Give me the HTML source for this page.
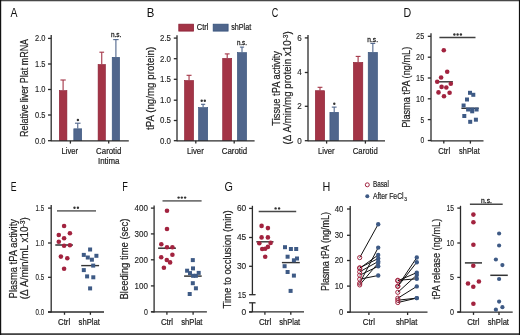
<!DOCTYPE html>
<html><head><meta charset="utf-8"><style>
html,body{margin:0;padding:0;background:#fff;}
svg{display:block;will-change:transform;filter:blur(0.3px);}
text{font-family:"Liberation Sans", sans-serif;}
</style></head><body>
<svg width="520" height="335" viewBox="0 0 520 335" font-family='"Liberation Sans", sans-serif'>
<rect width="520" height="335" fill="#fff"/>
<text x="10.60" y="16.90" font-size="12" fill="#111" textLength="7.00" lengthAdjust="spacingAndGlyphs">A</text>
<text x="146.80" y="17.00" font-size="12" fill="#111" textLength="7.60" lengthAdjust="spacingAndGlyphs">B</text>
<text x="271.80" y="17.10" font-size="12" fill="#111" textLength="6.50" lengthAdjust="spacingAndGlyphs">C</text>
<text x="403.50" y="16.90" font-size="12" fill="#111" textLength="7.70" lengthAdjust="spacingAndGlyphs">D</text>
<text x="10.80" y="191.20" font-size="12" fill="#111" textLength="5.80" lengthAdjust="spacingAndGlyphs">E</text>
<text x="122.20" y="191.20" font-size="12" fill="#111" textLength="5.60" lengthAdjust="spacingAndGlyphs">F</text>
<text x="224.60" y="191.20" font-size="12" fill="#111" textLength="8.40" lengthAdjust="spacingAndGlyphs">G</text>
<text x="322.60" y="190.90" font-size="12" fill="#111" textLength="7.80" lengthAdjust="spacingAndGlyphs">H</text>
<text transform="translate(27.90,137.00) rotate(-90)" x="0" y="0" font-size="10.6" fill="#222" stroke="#222" stroke-width="0.2" textLength="98.10" lengthAdjust="spacingAndGlyphs">Relative liver Plat mRNA</text>
<line x1="51.20" y1="35.00" x2="51.20" y2="141.20" stroke="#2b2b2b" stroke-width="1.3"/>
<line x1="48.00" y1="38.40" x2="51.20" y2="38.40" stroke="#2b2b2b" stroke-width="1.3"/>
<text x="45.40" y="41.30" font-size="8.2" fill="#222" stroke="#222" stroke-width="0.12" text-anchor="end" textLength="10.40" lengthAdjust="spacingAndGlyphs">2.0</text>
<line x1="48.00" y1="64.00" x2="51.20" y2="64.00" stroke="#2b2b2b" stroke-width="1.3"/>
<text x="45.40" y="66.90" font-size="8.2" fill="#222" stroke="#222" stroke-width="0.12" text-anchor="end" textLength="10.40" lengthAdjust="spacingAndGlyphs">1.5</text>
<line x1="48.00" y1="89.50" x2="51.20" y2="89.50" stroke="#2b2b2b" stroke-width="1.3"/>
<text x="45.40" y="92.40" font-size="8.2" fill="#222" stroke="#222" stroke-width="0.12" text-anchor="end" textLength="10.40" lengthAdjust="spacingAndGlyphs">1.0</text>
<line x1="48.00" y1="115.00" x2="51.20" y2="115.00" stroke="#2b2b2b" stroke-width="1.3"/>
<text x="45.40" y="117.90" font-size="8.2" fill="#222" stroke="#222" stroke-width="0.12" text-anchor="end" textLength="10.40" lengthAdjust="spacingAndGlyphs">0.5</text>
<line x1="48.00" y1="140.70" x2="51.20" y2="140.70" stroke="#2b2b2b" stroke-width="1.3"/>
<text x="45.40" y="143.60" font-size="8.2" fill="#222" stroke="#222" stroke-width="0.12" text-anchor="end" textLength="10.40" lengthAdjust="spacingAndGlyphs">0.0</text>
<rect x="59.30" y="90.60" width="7.60" height="50.10" fill="#a33446" stroke="#8a1f34" stroke-width="0.6"/>
<line x1="63.10" y1="80.00" x2="63.10" y2="90.30" stroke="#a33446" stroke-width="1.1"/>
<line x1="60.45" y1="80.00" x2="65.75" y2="80.00" stroke="#a33446" stroke-width="1.1"/>
<rect x="73.80" y="128.80" width="7.90" height="11.90" fill="#50668c" stroke="#34507a" stroke-width="0.6"/>
<line x1="77.75" y1="123.20" x2="77.75" y2="128.50" stroke="#50668c" stroke-width="1.1"/>
<line x1="74.95" y1="123.20" x2="80.55" y2="123.20" stroke="#50668c" stroke-width="1.1"/>
<rect x="98.10" y="64.50" width="7.30" height="76.20" fill="#a33446" stroke="#8a1f34" stroke-width="0.6"/>
<line x1="101.75" y1="52.20" x2="101.75" y2="64.20" stroke="#a33446" stroke-width="1.1"/>
<line x1="99.40" y1="52.20" x2="104.10" y2="52.20" stroke="#a33446" stroke-width="1.1"/>
<rect x="112.20" y="57.30" width="7.40" height="83.40" fill="#50668c" stroke="#34507a" stroke-width="0.6"/>
<line x1="115.90" y1="39.60" x2="115.90" y2="57.00" stroke="#50668c" stroke-width="1.1"/>
<line x1="113.20" y1="39.60" x2="118.60" y2="39.60" stroke="#50668c" stroke-width="1.1"/>
<line x1="51.20" y1="140.80" x2="128.80" y2="140.80" stroke="#2b2b2b" stroke-width="1.3"/>
<line x1="70.40" y1="140.80" x2="70.40" y2="143.60" stroke="#2b2b2b" stroke-width="1.3"/>
<line x1="108.70" y1="140.80" x2="108.70" y2="143.60" stroke="#2b2b2b" stroke-width="1.3"/>
<circle cx="77.90" cy="120.00" r="1.2" fill="#333"/>
<text x="110.90" y="37.20" font-size="7.8" fill="#222" stroke="#222" stroke-width="0.3" textLength="10.40" lengthAdjust="spacingAndGlyphs">n.s.</text>
<text x="61.50" y="154.00" font-size="8.4" fill="#222" stroke="#222" stroke-width="0.2" textLength="16.60" lengthAdjust="spacingAndGlyphs">Liver</text>
<text x="96.10" y="154.00" font-size="8.4" fill="#222" stroke="#222" stroke-width="0.2" textLength="25.30" lengthAdjust="spacingAndGlyphs">Carotid</text>
<text x="98.00" y="164.00" font-size="8.4" fill="#222" stroke="#222" stroke-width="0.2" textLength="21.50" lengthAdjust="spacingAndGlyphs">Intima</text>
<rect x="178.8" y="24.2" width="14.7" height="6.9" fill="#a33446" stroke="#8a1f34" stroke-width="0.8"/>
<text x="196.80" y="30.00" font-size="8.4" fill="#222" stroke="#222" stroke-width="0.2" textLength="11.70" lengthAdjust="spacingAndGlyphs">Ctrl</text>
<rect x="213.2" y="24.2" width="14.9" height="6.9" fill="#50668c" stroke="#34507a" stroke-width="0.8"/>
<text x="231.20" y="30.00" font-size="8.4" fill="#222" stroke="#222" stroke-width="0.2" textLength="20.00" lengthAdjust="spacingAndGlyphs">shPlat</text>
<text transform="translate(153.80,130.00) rotate(-90)" x="0" y="0" font-size="10.4" fill="#222" stroke="#222" stroke-width="0.2" textLength="83.30" lengthAdjust="spacingAndGlyphs">tPA (ng/mg protein)</text>
<line x1="177.00" y1="35.20" x2="177.00" y2="141.20" stroke="#2b2b2b" stroke-width="1.3"/>
<line x1="173.80" y1="38.10" x2="177.00" y2="38.10" stroke="#2b2b2b" stroke-width="1.3"/>
<text x="171.00" y="41.00" font-size="8.2" fill="#222" stroke="#222" stroke-width="0.12" text-anchor="end" textLength="11.00" lengthAdjust="spacingAndGlyphs">2.5</text>
<line x1="173.80" y1="58.70" x2="177.00" y2="58.70" stroke="#2b2b2b" stroke-width="1.3"/>
<text x="171.00" y="61.60" font-size="8.2" fill="#222" stroke="#222" stroke-width="0.12" text-anchor="end" textLength="11.00" lengthAdjust="spacingAndGlyphs">2.0</text>
<line x1="173.80" y1="79.30" x2="177.00" y2="79.30" stroke="#2b2b2b" stroke-width="1.3"/>
<text x="171.00" y="82.20" font-size="8.2" fill="#222" stroke="#222" stroke-width="0.12" text-anchor="end" textLength="11.00" lengthAdjust="spacingAndGlyphs">1.5</text>
<line x1="173.80" y1="100.20" x2="177.00" y2="100.20" stroke="#2b2b2b" stroke-width="1.3"/>
<text x="171.00" y="103.10" font-size="8.2" fill="#222" stroke="#222" stroke-width="0.12" text-anchor="end" textLength="11.00" lengthAdjust="spacingAndGlyphs">1.0</text>
<line x1="173.80" y1="120.50" x2="177.00" y2="120.50" stroke="#2b2b2b" stroke-width="1.3"/>
<text x="171.00" y="123.40" font-size="8.2" fill="#222" stroke="#222" stroke-width="0.12" text-anchor="end" textLength="11.00" lengthAdjust="spacingAndGlyphs">0.5</text>
<line x1="173.80" y1="140.70" x2="177.00" y2="140.70" stroke="#2b2b2b" stroke-width="1.3"/>
<text x="171.00" y="143.60" font-size="8.2" fill="#222" stroke="#222" stroke-width="0.12" text-anchor="end" textLength="11.00" lengthAdjust="spacingAndGlyphs">0.0</text>
<rect x="184.50" y="80.50" width="9.10" height="60.20" fill="#a33446" stroke="#8a1f34" stroke-width="0.6"/>
<line x1="189.05" y1="75.30" x2="189.05" y2="80.20" stroke="#a33446" stroke-width="1.1"/>
<line x1="186.55" y1="75.30" x2="191.55" y2="75.30" stroke="#a33446" stroke-width="1.1"/>
<rect x="198.50" y="107.60" width="9.20" height="33.10" fill="#50668c" stroke="#34507a" stroke-width="0.6"/>
<line x1="203.10" y1="104.30" x2="203.10" y2="107.30" stroke="#50668c" stroke-width="1.1"/>
<line x1="201.00" y1="104.30" x2="205.20" y2="104.30" stroke="#50668c" stroke-width="1.1"/>
<rect x="222.70" y="58.40" width="9.00" height="82.30" fill="#a33446" stroke="#8a1f34" stroke-width="0.6"/>
<line x1="227.20" y1="53.90" x2="227.20" y2="58.10" stroke="#a33446" stroke-width="1.1"/>
<line x1="224.80" y1="53.90" x2="229.60" y2="53.90" stroke="#a33446" stroke-width="1.1"/>
<rect x="237.40" y="52.60" width="9.20" height="88.10" fill="#50668c" stroke="#34507a" stroke-width="0.6"/>
<line x1="242.00" y1="47.10" x2="242.00" y2="52.30" stroke="#50668c" stroke-width="1.1"/>
<line x1="239.90" y1="47.10" x2="244.10" y2="47.10" stroke="#50668c" stroke-width="1.1"/>
<line x1="177.00" y1="140.80" x2="254.60" y2="140.80" stroke="#2b2b2b" stroke-width="1.3"/>
<line x1="195.80" y1="140.80" x2="195.80" y2="143.60" stroke="#2b2b2b" stroke-width="1.3"/>
<line x1="234.20" y1="140.80" x2="234.20" y2="143.60" stroke="#2b2b2b" stroke-width="1.3"/>
<circle cx="201.70" cy="100.80" r="1.2" fill="#333"/>
<circle cx="204.80" cy="100.80" r="1.2" fill="#333"/>
<text x="236.90" y="44.90" font-size="7.8" fill="#222" stroke="#222" stroke-width="0.3" textLength="10.10" lengthAdjust="spacingAndGlyphs">n.s.</text>
<text x="186.90" y="154.20" font-size="8.4" fill="#222" stroke="#222" stroke-width="0.2" textLength="16.90" lengthAdjust="spacingAndGlyphs">Liver</text>
<text x="221.80" y="154.20" font-size="8.4" fill="#222" stroke="#222" stroke-width="0.2" textLength="25.40" lengthAdjust="spacingAndGlyphs">Carotid</text>
<text transform="translate(279.80,125.70) rotate(-90)" x="0" y="0" font-size="10.4" fill="#222" stroke="#222" stroke-width="0.2" textLength="74.70" lengthAdjust="spacingAndGlyphs">Tissue tPA activity</text>
<text transform="translate(290.80,144.50) rotate(-90)" x="0" y="0" font-size="10.4" fill="#222" stroke="#222" stroke-width="0.2" textLength="113.20" lengthAdjust="spacingAndGlyphs">(&#916; A/min/mg protein x10<tspan dy="-3" font-size="7">-3</tspan><tspan dy="3">)</tspan></text>
<line x1="308.00" y1="34.90" x2="308.00" y2="141.20" stroke="#2b2b2b" stroke-width="1.3"/>
<line x1="304.80" y1="37.90" x2="308.00" y2="37.90" stroke="#2b2b2b" stroke-width="1.3"/>
<text x="301.70" y="40.80" font-size="8.2" fill="#222" stroke="#222" stroke-width="0.12" text-anchor="end" textLength="4.50" lengthAdjust="spacingAndGlyphs">6</text>
<line x1="304.80" y1="72.50" x2="308.00" y2="72.50" stroke="#2b2b2b" stroke-width="1.3"/>
<text x="301.70" y="75.40" font-size="8.2" fill="#222" stroke="#222" stroke-width="0.12" text-anchor="end" textLength="4.50" lengthAdjust="spacingAndGlyphs">4</text>
<line x1="304.80" y1="106.30" x2="308.00" y2="106.30" stroke="#2b2b2b" stroke-width="1.3"/>
<text x="301.70" y="109.20" font-size="8.2" fill="#222" stroke="#222" stroke-width="0.12" text-anchor="end" textLength="4.50" lengthAdjust="spacingAndGlyphs">2</text>
<line x1="304.80" y1="140.70" x2="308.00" y2="140.70" stroke="#2b2b2b" stroke-width="1.3"/>
<text x="301.70" y="143.60" font-size="8.2" fill="#222" stroke="#222" stroke-width="0.12" text-anchor="end" textLength="4.50" lengthAdjust="spacingAndGlyphs">0</text>
<rect x="315.30" y="90.70" width="9.40" height="50.00" fill="#a33446" stroke="#8a1f34" stroke-width="0.6"/>
<line x1="320.00" y1="87.30" x2="320.00" y2="90.40" stroke="#a33446" stroke-width="1.1"/>
<line x1="317.60" y1="87.30" x2="322.40" y2="87.30" stroke="#a33446" stroke-width="1.1"/>
<rect x="329.90" y="112.30" width="8.60" height="28.40" fill="#50668c" stroke="#34507a" stroke-width="0.6"/>
<line x1="334.20" y1="107.10" x2="334.20" y2="112.00" stroke="#50668c" stroke-width="1.1"/>
<line x1="331.80" y1="107.10" x2="336.60" y2="107.10" stroke="#50668c" stroke-width="1.1"/>
<rect x="353.40" y="62.40" width="9.40" height="78.30" fill="#a33446" stroke="#8a1f34" stroke-width="0.6"/>
<line x1="358.10" y1="56.40" x2="358.10" y2="62.10" stroke="#a33446" stroke-width="1.1"/>
<line x1="355.70" y1="56.40" x2="360.50" y2="56.40" stroke="#a33446" stroke-width="1.1"/>
<rect x="368.20" y="52.40" width="9.30" height="88.30" fill="#50668c" stroke="#34507a" stroke-width="0.6"/>
<line x1="372.85" y1="43.40" x2="372.85" y2="52.10" stroke="#50668c" stroke-width="1.1"/>
<line x1="370.45" y1="43.40" x2="375.25" y2="43.40" stroke="#50668c" stroke-width="1.1"/>
<line x1="308.00" y1="140.80" x2="385.00" y2="140.80" stroke="#2b2b2b" stroke-width="1.3"/>
<line x1="326.60" y1="140.80" x2="326.60" y2="143.60" stroke="#2b2b2b" stroke-width="1.3"/>
<line x1="365.40" y1="140.80" x2="365.40" y2="143.60" stroke="#2b2b2b" stroke-width="1.3"/>
<circle cx="334.30" cy="103.70" r="1.2" fill="#333"/>
<text x="367.30" y="41.60" font-size="7.8" fill="#222" stroke="#222" stroke-width="0.3" textLength="10.70" lengthAdjust="spacingAndGlyphs">n.s.</text>
<text x="318.00" y="153.80" font-size="8.4" fill="#222" stroke="#222" stroke-width="0.2" textLength="16.60" lengthAdjust="spacingAndGlyphs">Liver</text>
<text x="352.80" y="153.80" font-size="8.4" fill="#222" stroke="#222" stroke-width="0.2" textLength="24.90" lengthAdjust="spacingAndGlyphs">Carotid</text>
<text transform="translate(409.90,127.80) rotate(-90)" x="0" y="0" font-size="10.4" fill="#222" stroke="#222" stroke-width="0.2" textLength="81.10" lengthAdjust="spacingAndGlyphs">Plasma tPA (ng/mL)</text>
<line x1="431.00" y1="33.20" x2="431.00" y2="141.20" stroke="#2b2b2b" stroke-width="1.3"/>
<line x1="427.80" y1="36.30" x2="431.00" y2="36.30" stroke="#2b2b2b" stroke-width="1.3"/>
<text x="424.20" y="39.20" font-size="8.2" fill="#222" stroke="#222" stroke-width="0.12" text-anchor="end" textLength="8.10" lengthAdjust="spacingAndGlyphs">25</text>
<line x1="427.80" y1="57.20" x2="431.00" y2="57.20" stroke="#2b2b2b" stroke-width="1.3"/>
<text x="424.20" y="60.10" font-size="8.2" fill="#222" stroke="#222" stroke-width="0.12" text-anchor="end" textLength="8.10" lengthAdjust="spacingAndGlyphs">20</text>
<line x1="427.80" y1="78.00" x2="431.00" y2="78.00" stroke="#2b2b2b" stroke-width="1.3"/>
<text x="424.20" y="80.90" font-size="8.2" fill="#222" stroke="#222" stroke-width="0.12" text-anchor="end" textLength="8.10" lengthAdjust="spacingAndGlyphs">15</text>
<line x1="427.80" y1="98.80" x2="431.00" y2="98.80" stroke="#2b2b2b" stroke-width="1.3"/>
<text x="424.20" y="101.70" font-size="8.2" fill="#222" stroke="#222" stroke-width="0.12" text-anchor="end" textLength="8.10" lengthAdjust="spacingAndGlyphs">10</text>
<line x1="427.80" y1="119.60" x2="431.00" y2="119.60" stroke="#2b2b2b" stroke-width="1.3"/>
<text x="424.20" y="122.50" font-size="8.2" fill="#222" stroke="#222" stroke-width="0.12" text-anchor="end" textLength="3.70" lengthAdjust="spacingAndGlyphs">5</text>
<line x1="427.80" y1="140.50" x2="431.00" y2="140.50" stroke="#2b2b2b" stroke-width="1.3"/>
<text x="424.20" y="143.40" font-size="8.2" fill="#222" stroke="#222" stroke-width="0.12" text-anchor="end" textLength="3.70" lengthAdjust="spacingAndGlyphs">0</text>
<line x1="431.00" y1="140.80" x2="483.50" y2="140.80" stroke="#2b2b2b" stroke-width="1.3"/>
<line x1="443.80" y1="140.80" x2="443.80" y2="143.60" stroke="#2b2b2b" stroke-width="1.3"/>
<line x1="470.40" y1="140.80" x2="470.40" y2="143.60" stroke="#2b2b2b" stroke-width="1.3"/>
<line x1="439.40" y1="37.50" x2="475.50" y2="37.50" stroke="#404040" stroke-width="1.5"/>
<circle cx="454.40" cy="34.50" r="1.2" fill="#333"/>
<circle cx="457.60" cy="34.50" r="1.2" fill="#333"/>
<circle cx="460.90" cy="34.50" r="1.2" fill="#333"/>
<line x1="438.30" y1="81.80" x2="452.90" y2="81.80" stroke="#333" stroke-width="1.4"/>
<circle cx="443.80" cy="50.30" r="2.3" fill="#a2233f"/>
<circle cx="447.20" cy="71.80" r="2.3" fill="#a2233f"/>
<circle cx="441.10" cy="77.50" r="2.3" fill="#a2233f"/>
<circle cx="437.20" cy="81.70" r="2.3" fill="#a2233f"/>
<circle cx="450.80" cy="83.80" r="2.3" fill="#a2233f"/>
<circle cx="441.60" cy="86.90" r="2.3" fill="#a2233f"/>
<circle cx="446.30" cy="87.50" r="2.3" fill="#a2233f"/>
<circle cx="438.50" cy="92.40" r="2.3" fill="#a2233f"/>
<circle cx="449.60" cy="92.70" r="2.3" fill="#a2233f"/>
<circle cx="444.00" cy="96.30" r="2.3" fill="#a2233f"/>
<line x1="461.40" y1="108.30" x2="478.70" y2="108.30" stroke="#333" stroke-width="1.4"/>
<rect x="468.00" y="90.80" width="4.0" height="4.0" fill="#3e5a85"/>
<rect x="471.30" y="92.80" width="4.0" height="4.0" fill="#3e5a85"/>
<rect x="465.00" y="97.50" width="4.0" height="4.0" fill="#3e5a85"/>
<rect x="461.60" y="103.50" width="4.0" height="4.0" fill="#3e5a85"/>
<rect x="466.10" y="107.50" width="4.0" height="4.0" fill="#3e5a85"/>
<rect x="470.20" y="107.50" width="4.0" height="4.0" fill="#3e5a85"/>
<rect x="474.60" y="107.50" width="4.0" height="4.0" fill="#3e5a85"/>
<rect x="470.20" y="109.30" width="4.0" height="4.0" fill="#3e5a85"/>
<rect x="462.30" y="114.00" width="4.0" height="4.0" fill="#3e5a85"/>
<rect x="473.90" y="117.70" width="4.0" height="4.0" fill="#3e5a85"/>
<rect x="468.20" y="119.80" width="4.0" height="4.0" fill="#3e5a85"/>
<text x="438.20" y="153.70" font-size="8.4" fill="#222" stroke="#222" stroke-width="0.2" textLength="11.90" lengthAdjust="spacingAndGlyphs">Ctrl</text>
<text x="459.10" y="153.70" font-size="8.4" fill="#222" stroke="#222" stroke-width="0.2" textLength="20.60" lengthAdjust="spacingAndGlyphs">shPlat</text>
<text transform="translate(16.70,298.40) rotate(-90)" x="0" y="0" font-size="10.4" fill="#222" stroke="#222" stroke-width="0.2" textLength="79.40" lengthAdjust="spacingAndGlyphs">Plasma tPA activity</text>
<text transform="translate(27.90,299.20) rotate(-90)" x="0" y="0" font-size="10.4" fill="#222" stroke="#222" stroke-width="0.2" textLength="82.10" lengthAdjust="spacingAndGlyphs">(&#916; A/min/mL x10<tspan dy="-3" font-size="7">-3</tspan><tspan dy="3">)</tspan></text>
<line x1="51.20" y1="205.00" x2="51.20" y2="312.40" stroke="#2b2b2b" stroke-width="1.3"/>
<line x1="48.00" y1="208.10" x2="51.20" y2="208.10" stroke="#2b2b2b" stroke-width="1.3"/>
<text x="44.10" y="211.00" font-size="8.2" fill="#222" stroke="#222" stroke-width="0.12" text-anchor="end" textLength="8.60" lengthAdjust="spacingAndGlyphs">1.5</text>
<line x1="48.00" y1="243.00" x2="51.20" y2="243.00" stroke="#2b2b2b" stroke-width="1.3"/>
<text x="44.10" y="245.90" font-size="8.2" fill="#222" stroke="#222" stroke-width="0.12" text-anchor="end" textLength="8.60" lengthAdjust="spacingAndGlyphs">1.0</text>
<line x1="48.00" y1="277.30" x2="51.20" y2="277.30" stroke="#2b2b2b" stroke-width="1.3"/>
<text x="44.10" y="280.20" font-size="8.2" fill="#222" stroke="#222" stroke-width="0.12" text-anchor="end" textLength="8.60" lengthAdjust="spacingAndGlyphs">0.5</text>
<line x1="48.00" y1="312.00" x2="51.20" y2="312.00" stroke="#2b2b2b" stroke-width="1.3"/>
<text x="44.10" y="314.90" font-size="8.2" fill="#222" stroke="#222" stroke-width="0.12" text-anchor="end" textLength="8.60" lengthAdjust="spacingAndGlyphs">0.0</text>
<line x1="48.00" y1="312.00" x2="104.00" y2="312.00" stroke="#2b2b2b" stroke-width="1.3"/>
<line x1="64.50" y1="312.00" x2="64.50" y2="314.80" stroke="#2b2b2b" stroke-width="1.3"/>
<line x1="90.40" y1="312.00" x2="90.40" y2="314.80" stroke="#2b2b2b" stroke-width="1.3"/>
<line x1="57.00" y1="210.80" x2="96.00" y2="210.80" stroke="#757575" stroke-width="1.7"/>
<circle cx="74.50" cy="207.70" r="1.2" fill="#333"/>
<circle cx="77.90" cy="207.70" r="1.2" fill="#333"/>
<line x1="55.30" y1="245.00" x2="72.90" y2="245.00" stroke="#333" stroke-width="1.5"/>
<circle cx="64.10" cy="226.00" r="2.3" fill="#a2233f"/>
<circle cx="69.90" cy="233.20" r="2.3" fill="#a2233f"/>
<circle cx="58.80" cy="235.00" r="2.3" fill="#a2233f"/>
<circle cx="64.10" cy="238.20" r="2.3" fill="#a2233f"/>
<circle cx="58.80" cy="241.80" r="2.3" fill="#a2233f"/>
<circle cx="64.10" cy="245.70" r="2.3" fill="#a2233f"/>
<circle cx="69.90" cy="245.20" r="2.3" fill="#a2233f"/>
<circle cx="60.90" cy="256.60" r="2.3" fill="#a2233f"/>
<circle cx="67.30" cy="258.30" r="2.3" fill="#a2233f"/>
<circle cx="64.10" cy="268.80" r="2.3" fill="#a2233f"/>
<line x1="81.20" y1="265.60" x2="99.10" y2="265.60" stroke="#333" stroke-width="1.4"/>
<rect x="88.10" y="247.50" width="4.0" height="4.0" fill="#3e5a85"/>
<rect x="81.80" y="252.90" width="4.0" height="4.0" fill="#3e5a85"/>
<rect x="94.40" y="253.80" width="4.0" height="4.0" fill="#3e5a85"/>
<rect x="85.80" y="255.50" width="4.0" height="4.0" fill="#3e5a85"/>
<rect x="89.90" y="257.70" width="4.0" height="4.0" fill="#3e5a85"/>
<rect x="91.20" y="263.60" width="4.0" height="4.0" fill="#3e5a85"/>
<rect x="81.80" y="268.10" width="4.0" height="4.0" fill="#3e5a85"/>
<rect x="85.10" y="274.40" width="4.0" height="4.0" fill="#3e5a85"/>
<rect x="91.30" y="275.30" width="4.0" height="4.0" fill="#3e5a85"/>
<rect x="88.10" y="286.40" width="4.0" height="4.0" fill="#3e5a85"/>
<text x="58.10" y="325.20" font-size="8.4" fill="#222" stroke="#222" stroke-width="0.2" textLength="12.10" lengthAdjust="spacingAndGlyphs">Ctrl</text>
<text x="78.60" y="325.20" font-size="8.4" fill="#222" stroke="#222" stroke-width="0.2" textLength="21.30" lengthAdjust="spacingAndGlyphs">shPlat</text>
<text transform="translate(128.30,299.50) rotate(-90)" x="0" y="0" font-size="10.4" fill="#222" stroke="#222" stroke-width="0.2" textLength="81.00" lengthAdjust="spacingAndGlyphs">Bleeding time (sec)</text>
<line x1="154.10" y1="205.40" x2="154.10" y2="312.40" stroke="#2b2b2b" stroke-width="1.3"/>
<line x1="150.90" y1="208.10" x2="154.10" y2="208.10" stroke="#2b2b2b" stroke-width="1.3"/>
<text x="147.90" y="211.00" font-size="8.2" fill="#222" stroke="#222" stroke-width="0.12" text-anchor="end" textLength="13.40" lengthAdjust="spacingAndGlyphs">400</text>
<line x1="150.90" y1="233.90" x2="154.10" y2="233.90" stroke="#2b2b2b" stroke-width="1.3"/>
<text x="147.90" y="236.80" font-size="8.2" fill="#222" stroke="#222" stroke-width="0.12" text-anchor="end" textLength="13.40" lengthAdjust="spacingAndGlyphs">300</text>
<line x1="150.90" y1="259.80" x2="154.10" y2="259.80" stroke="#2b2b2b" stroke-width="1.3"/>
<text x="147.90" y="262.70" font-size="8.2" fill="#222" stroke="#222" stroke-width="0.12" text-anchor="end" textLength="13.40" lengthAdjust="spacingAndGlyphs">200</text>
<line x1="150.90" y1="285.90" x2="154.10" y2="285.90" stroke="#2b2b2b" stroke-width="1.3"/>
<text x="147.90" y="288.80" font-size="8.2" fill="#222" stroke="#222" stroke-width="0.12" text-anchor="end" textLength="13.40" lengthAdjust="spacingAndGlyphs">100</text>
<line x1="150.90" y1="311.80" x2="154.10" y2="311.80" stroke="#2b2b2b" stroke-width="1.3"/>
<text x="147.90" y="314.70" font-size="8.2" fill="#222" stroke="#222" stroke-width="0.12" text-anchor="end" textLength="3.90" lengthAdjust="spacingAndGlyphs">0</text>
<line x1="151.20" y1="311.90" x2="206.90" y2="311.90" stroke="#2b2b2b" stroke-width="1.3"/>
<line x1="166.90" y1="311.90" x2="166.90" y2="314.70" stroke="#2b2b2b" stroke-width="1.3"/>
<line x1="193.10" y1="311.90" x2="193.10" y2="314.70" stroke="#2b2b2b" stroke-width="1.3"/>
<line x1="162.50" y1="200.90" x2="201.60" y2="200.90" stroke="#757575" stroke-width="1.8"/>
<circle cx="178.60" cy="197.60" r="1.2" fill="#333"/>
<circle cx="181.80" cy="197.60" r="1.2" fill="#333"/>
<circle cx="185.10" cy="197.60" r="1.2" fill="#333"/>
<line x1="158.10" y1="248.20" x2="175.90" y2="248.20" stroke="#333" stroke-width="1.5"/>
<circle cx="167.00" cy="210.80" r="2.3" fill="#a2233f"/>
<circle cx="167.00" cy="229.00" r="2.3" fill="#a2233f"/>
<circle cx="161.30" cy="244.30" r="2.3" fill="#a2233f"/>
<circle cx="167.00" cy="247.30" r="2.3" fill="#a2233f"/>
<circle cx="172.40" cy="247.30" r="2.3" fill="#a2233f"/>
<circle cx="172.40" cy="254.70" r="2.3" fill="#a2233f"/>
<circle cx="161.20" cy="257.30" r="2.3" fill="#a2233f"/>
<circle cx="166.80" cy="260.00" r="2.3" fill="#a2233f"/>
<circle cx="170.10" cy="262.40" r="2.3" fill="#a2233f"/>
<circle cx="163.90" cy="267.80" r="2.3" fill="#a2233f"/>
<line x1="184.10" y1="276.10" x2="201.70" y2="276.10" stroke="#333" stroke-width="1.5"/>
<rect x="190.80" y="258.10" width="4.0" height="4.0" fill="#3e5a85"/>
<rect x="191.00" y="266.40" width="4.0" height="4.0" fill="#3e5a85"/>
<rect x="185.10" y="268.70" width="4.0" height="4.0" fill="#3e5a85"/>
<rect x="188.00" y="271.10" width="4.0" height="4.0" fill="#3e5a85"/>
<rect x="191.10" y="273.80" width="4.0" height="4.0" fill="#3e5a85"/>
<rect x="193.90" y="273.80" width="4.0" height="4.0" fill="#3e5a85"/>
<rect x="196.70" y="270.90" width="4.0" height="4.0" fill="#3e5a85"/>
<rect x="190.80" y="281.20" width="4.0" height="4.0" fill="#3e5a85"/>
<rect x="193.90" y="286.30" width="4.0" height="4.0" fill="#3e5a85"/>
<rect x="187.70" y="292.00" width="4.0" height="4.0" fill="#3e5a85"/>
<text x="160.90" y="325.00" font-size="8.4" fill="#222" stroke="#222" stroke-width="0.2" textLength="12.20" lengthAdjust="spacingAndGlyphs">Ctrl</text>
<text x="181.30" y="325.00" font-size="8.4" fill="#222" stroke="#222" stroke-width="0.2" textLength="21.20" lengthAdjust="spacingAndGlyphs">shPlat</text>
<text transform="translate(231.00,308.60) rotate(-90)" x="0" y="0" font-size="10.4" fill="#222" stroke="#222" stroke-width="0.2" textLength="98.40" lengthAdjust="spacingAndGlyphs">Time to occlusion (min)</text>
<line x1="252.40" y1="205.80" x2="252.40" y2="294.70" stroke="#2b2b2b" stroke-width="1.3"/>
<line x1="252.40" y1="302.80" x2="252.40" y2="312.00" stroke="#2b2b2b" stroke-width="1.3"/>
<line x1="249.10" y1="294.70" x2="255.60" y2="294.70" stroke="#2b2b2b" stroke-width="1.3"/>
<line x1="249.10" y1="302.80" x2="255.60" y2="302.80" stroke="#2b2b2b" stroke-width="1.3"/>
<line x1="249.10" y1="208.40" x2="252.40" y2="208.40" stroke="#2b2b2b" stroke-width="1.3"/>
<text x="246.2" y="211.30" font-size="8.2" fill="#222" stroke="#222" stroke-width="0.12" text-anchor="end" textLength="9.30" lengthAdjust="spacingAndGlyphs">60</text>
<line x1="249.10" y1="237.50" x2="252.40" y2="237.50" stroke="#2b2b2b" stroke-width="1.3"/>
<text x="246.2" y="240.40" font-size="8.2" fill="#222" stroke="#222" stroke-width="0.12" text-anchor="end" textLength="9.30" lengthAdjust="spacingAndGlyphs">45</text>
<line x1="249.10" y1="266.30" x2="252.40" y2="266.30" stroke="#2b2b2b" stroke-width="1.3"/>
<text x="246.2" y="269.20" font-size="8.2" fill="#222" stroke="#222" stroke-width="0.12" text-anchor="end" textLength="9.30" lengthAdjust="spacingAndGlyphs">30</text>
<text x="246.2" y="297.60" font-size="8.2" fill="#222" stroke="#222" stroke-width="0.12" text-anchor="end" textLength="8.40" lengthAdjust="spacingAndGlyphs">15</text>
<line x1="249.10" y1="312.00" x2="252.40" y2="312.00" stroke="#2b2b2b" stroke-width="1.3"/>
<text x="246.2" y="314.90" font-size="8.2" fill="#222" stroke="#222" stroke-width="0.12" text-anchor="end" textLength="4.70" lengthAdjust="spacingAndGlyphs">0</text>
<line x1="249.00" y1="311.90" x2="304.00" y2="311.90" stroke="#2b2b2b" stroke-width="1.3"/>
<line x1="264.90" y1="311.90" x2="264.90" y2="314.70" stroke="#2b2b2b" stroke-width="1.3"/>
<line x1="290.80" y1="311.90" x2="290.80" y2="314.70" stroke="#2b2b2b" stroke-width="1.3"/>
<line x1="258.70" y1="211.50" x2="296.20" y2="211.50" stroke="#484848" stroke-width="1.5"/>
<circle cx="275.60" cy="208.40" r="1.2" fill="#333"/>
<circle cx="279.10" cy="208.40" r="1.2" fill="#333"/>
<line x1="256.30" y1="241.80" x2="273.50" y2="241.80" stroke="#333" stroke-width="1.4"/>
<circle cx="261.60" cy="225.90" r="2.3" fill="#a2233f"/>
<circle cx="267.90" cy="228.10" r="2.3" fill="#a2233f"/>
<circle cx="261.60" cy="237.40" r="2.3" fill="#a2233f"/>
<circle cx="267.90" cy="237.40" r="2.3" fill="#a2233f"/>
<circle cx="259.30" cy="243.30" r="2.3" fill="#a2233f"/>
<circle cx="270.60" cy="242.90" r="2.3" fill="#a2233f"/>
<circle cx="262.20" cy="249.00" r="2.3" fill="#a2233f"/>
<circle cx="265.20" cy="248.70" r="2.3" fill="#a2233f"/>
<circle cx="267.90" cy="246.90" r="2.3" fill="#a2233f"/>
<circle cx="265.20" cy="256.70" r="2.3" fill="#a2233f"/>
<line x1="281.90" y1="262.60" x2="299.80" y2="262.60" stroke="#333" stroke-width="1.4"/>
<rect x="283.00" y="245.20" width="4.0" height="4.0" fill="#3e5a85"/>
<rect x="288.90" y="247.00" width="4.0" height="4.0" fill="#3e5a85"/>
<rect x="294.20" y="247.00" width="4.0" height="4.0" fill="#3e5a85"/>
<rect x="285.60" y="254.70" width="4.0" height="4.0" fill="#3e5a85"/>
<rect x="291.90" y="258.30" width="4.0" height="4.0" fill="#3e5a85"/>
<rect x="295.00" y="256.50" width="4.0" height="4.0" fill="#3e5a85"/>
<rect x="282.60" y="264.20" width="4.0" height="4.0" fill="#3e5a85"/>
<rect x="285.60" y="270.00" width="4.0" height="4.0" fill="#3e5a85"/>
<rect x="291.90" y="273.60" width="4.0" height="4.0" fill="#3e5a85"/>
<rect x="288.60" y="288.90" width="4.0" height="4.0" fill="#3e5a85"/>
<text x="258.90" y="325.20" font-size="8.4" fill="#222" stroke="#222" stroke-width="0.2" textLength="12.30" lengthAdjust="spacingAndGlyphs">Ctrl</text>
<text x="279.30" y="325.20" font-size="8.4" fill="#222" stroke="#222" stroke-width="0.2" textLength="20.90" lengthAdjust="spacingAndGlyphs">shPlat</text>
<circle cx="367.30" cy="184.80" r="2.0" fill="none" stroke="#a2233f" stroke-width="1.0"/>
<text x="372.90" y="187.20" font-size="8.6" fill="#222" stroke="#222" stroke-width="0.2" textLength="15.90" lengthAdjust="spacingAndGlyphs">Basal</text>
<circle cx="367.30" cy="196.30" r="2.0" fill="#3e5a85"/>
<text x="372.90" y="198.50" font-size="8.6" fill="#222" stroke="#222" stroke-width="0.2" textLength="30.70" lengthAdjust="spacingAndGlyphs">After FeCl</text>
<text x="404.30" y="200.80" font-size="5.5" fill="#222" stroke="#222" stroke-width="0.2" textLength="2.70" lengthAdjust="spacingAndGlyphs">3</text>
<text transform="translate(328.50,291.10) rotate(-90)" x="0" y="0" font-size="10.4" fill="#222" stroke="#222" stroke-width="0.2" textLength="79.10" lengthAdjust="spacingAndGlyphs">Plasma tPA (ng/mL)</text>
<line x1="350.20" y1="206.00" x2="350.20" y2="312.60" stroke="#2b2b2b" stroke-width="1.3"/>
<line x1="347.00" y1="209.00" x2="350.20" y2="209.00" stroke="#2b2b2b" stroke-width="1.3"/>
<text x="343.30" y="211.90" font-size="8.2" fill="#222" stroke="#222" stroke-width="0.12" text-anchor="end" textLength="8.60" lengthAdjust="spacingAndGlyphs">40</text>
<line x1="347.00" y1="235.30" x2="350.20" y2="235.30" stroke="#2b2b2b" stroke-width="1.3"/>
<text x="343.30" y="238.20" font-size="8.2" fill="#222" stroke="#222" stroke-width="0.12" text-anchor="end" textLength="8.60" lengthAdjust="spacingAndGlyphs">30</text>
<line x1="347.00" y1="260.50" x2="350.20" y2="260.50" stroke="#2b2b2b" stroke-width="1.3"/>
<text x="343.30" y="263.40" font-size="8.2" fill="#222" stroke="#222" stroke-width="0.12" text-anchor="end" textLength="8.60" lengthAdjust="spacingAndGlyphs">20</text>
<line x1="347.00" y1="286.10" x2="350.20" y2="286.10" stroke="#2b2b2b" stroke-width="1.3"/>
<text x="343.30" y="289.00" font-size="8.2" fill="#222" stroke="#222" stroke-width="0.12" text-anchor="end" textLength="8.60" lengthAdjust="spacingAndGlyphs">10</text>
<line x1="347.00" y1="312.20" x2="350.20" y2="312.20" stroke="#2b2b2b" stroke-width="1.3"/>
<text x="343.30" y="315.10" font-size="8.2" fill="#222" stroke="#222" stroke-width="0.12" text-anchor="end" textLength="4.30" lengthAdjust="spacingAndGlyphs">0</text>
<line x1="347.10" y1="312.20" x2="427.50" y2="312.20" stroke="#2b2b2b" stroke-width="1.3"/>
<line x1="368.90" y1="312.20" x2="368.90" y2="315.00" stroke="#2b2b2b" stroke-width="1.3"/>
<line x1="407.60" y1="312.20" x2="407.60" y2="315.00" stroke="#2b2b2b" stroke-width="1.3"/>
<line x1="359.70" y1="257.60" x2="378.20" y2="224.20" stroke="#111" stroke-width="1.0"/>
<line x1="359.70" y1="283.20" x2="378.20" y2="247.60" stroke="#111" stroke-width="1.0"/>
<line x1="359.70" y1="279.20" x2="378.20" y2="275.50" stroke="#111" stroke-width="1.0"/>
<line x1="359.70" y1="267.80" x2="378.20" y2="258.50" stroke="#111" stroke-width="1.0"/>
<line x1="359.70" y1="271.80" x2="378.20" y2="261.50" stroke="#111" stroke-width="1.0"/>
<line x1="359.70" y1="268.30" x2="378.20" y2="255.00" stroke="#111" stroke-width="1.0"/>
<line x1="359.70" y1="284.90" x2="378.20" y2="263.00" stroke="#111" stroke-width="1.0"/>
<line x1="359.70" y1="275.20" x2="378.20" y2="266.30" stroke="#111" stroke-width="1.0"/>
<circle cx="359.70" cy="257.60" r="2.1" fill="none" stroke="#a2233f" stroke-width="1.0"/>
<circle cx="359.70" cy="283.20" r="2.1" fill="none" stroke="#a2233f" stroke-width="1.0"/>
<circle cx="359.70" cy="279.20" r="2.1" fill="none" stroke="#a2233f" stroke-width="1.0"/>
<circle cx="359.70" cy="267.80" r="2.1" fill="none" stroke="#a2233f" stroke-width="1.0"/>
<circle cx="359.70" cy="271.80" r="2.1" fill="none" stroke="#a2233f" stroke-width="1.0"/>
<circle cx="359.70" cy="268.30" r="2.1" fill="none" stroke="#a2233f" stroke-width="1.0"/>
<circle cx="359.70" cy="284.90" r="2.1" fill="none" stroke="#a2233f" stroke-width="1.0"/>
<circle cx="359.70" cy="275.20" r="2.1" fill="none" stroke="#a2233f" stroke-width="1.0"/>
<circle cx="378.20" cy="224.20" r="2.2" fill="#3e5a85"/>
<circle cx="378.20" cy="247.60" r="2.2" fill="#3e5a85"/>
<circle cx="378.20" cy="275.50" r="2.2" fill="#3e5a85"/>
<circle cx="378.20" cy="258.50" r="2.2" fill="#3e5a85"/>
<circle cx="378.20" cy="261.50" r="2.2" fill="#3e5a85"/>
<circle cx="378.20" cy="255.00" r="2.2" fill="#3e5a85"/>
<circle cx="378.20" cy="263.00" r="2.2" fill="#3e5a85"/>
<circle cx="378.20" cy="266.30" r="2.2" fill="#3e5a85"/>
<line x1="397.80" y1="280.30" x2="416.80" y2="278.80" stroke="#111" stroke-width="1.0"/>
<line x1="397.80" y1="280.80" x2="416.80" y2="272.60" stroke="#111" stroke-width="1.0"/>
<line x1="397.80" y1="286.00" x2="416.80" y2="257.50" stroke="#111" stroke-width="1.0"/>
<line x1="397.80" y1="286.50" x2="416.80" y2="262.20" stroke="#111" stroke-width="1.0"/>
<line x1="397.80" y1="292.30" x2="416.80" y2="275.00" stroke="#111" stroke-width="1.0"/>
<line x1="397.80" y1="298.20" x2="416.80" y2="286.40" stroke="#111" stroke-width="1.0"/>
<line x1="397.80" y1="300.20" x2="416.80" y2="298.10" stroke="#111" stroke-width="1.0"/>
<line x1="397.80" y1="302.50" x2="416.80" y2="298.10" stroke="#111" stroke-width="1.0"/>
<circle cx="397.80" cy="280.30" r="2.1" fill="none" stroke="#a2233f" stroke-width="1.0"/>
<circle cx="397.80" cy="280.80" r="2.1" fill="none" stroke="#a2233f" stroke-width="1.0"/>
<circle cx="397.80" cy="286.00" r="2.1" fill="none" stroke="#a2233f" stroke-width="1.0"/>
<circle cx="397.80" cy="286.50" r="2.1" fill="none" stroke="#a2233f" stroke-width="1.0"/>
<circle cx="397.80" cy="292.30" r="2.1" fill="none" stroke="#a2233f" stroke-width="1.0"/>
<circle cx="397.80" cy="298.20" r="2.1" fill="none" stroke="#a2233f" stroke-width="1.0"/>
<circle cx="397.80" cy="300.20" r="2.1" fill="none" stroke="#a2233f" stroke-width="1.0"/>
<circle cx="397.80" cy="302.50" r="2.1" fill="none" stroke="#a2233f" stroke-width="1.0"/>
<circle cx="416.80" cy="278.80" r="2.2" fill="#3e5a85"/>
<circle cx="416.80" cy="272.60" r="2.2" fill="#3e5a85"/>
<circle cx="416.80" cy="257.50" r="2.2" fill="#3e5a85"/>
<circle cx="416.80" cy="262.20" r="2.2" fill="#3e5a85"/>
<circle cx="416.80" cy="275.00" r="2.2" fill="#3e5a85"/>
<circle cx="416.80" cy="286.40" r="2.2" fill="#3e5a85"/>
<circle cx="416.80" cy="298.10" r="2.2" fill="#3e5a85"/>
<circle cx="416.80" cy="298.10" r="2.2" fill="#3e5a85"/>
<text x="362.80" y="325.10" font-size="8.4" fill="#222" stroke="#222" stroke-width="0.2" textLength="12.10" lengthAdjust="spacingAndGlyphs">Ctrl</text>
<text x="396.00" y="325.10" font-size="8.4" fill="#222" stroke="#222" stroke-width="0.2" textLength="21.30" lengthAdjust="spacingAndGlyphs">shPlat</text>
<text transform="translate(439.50,299.20) rotate(-90)" x="0" y="0" font-size="10.4" fill="#222" stroke="#222" stroke-width="0.2" textLength="80.40" lengthAdjust="spacingAndGlyphs">tPA release (ng/mL)</text>
<line x1="460.50" y1="205.80" x2="460.50" y2="312.40" stroke="#2b2b2b" stroke-width="1.3"/>
<line x1="457.30" y1="208.10" x2="460.50" y2="208.10" stroke="#2b2b2b" stroke-width="1.3"/>
<text x="454.00" y="211.00" font-size="8.2" fill="#222" stroke="#222" stroke-width="0.12" text-anchor="end" textLength="7.50" lengthAdjust="spacingAndGlyphs">15</text>
<line x1="457.30" y1="243.00" x2="460.50" y2="243.00" stroke="#2b2b2b" stroke-width="1.3"/>
<text x="454.00" y="245.90" font-size="8.2" fill="#222" stroke="#222" stroke-width="0.12" text-anchor="end" textLength="7.50" lengthAdjust="spacingAndGlyphs">10</text>
<line x1="457.30" y1="277.40" x2="460.50" y2="277.40" stroke="#2b2b2b" stroke-width="1.3"/>
<text x="454.00" y="280.30" font-size="8.2" fill="#222" stroke="#222" stroke-width="0.12" text-anchor="end" textLength="4.00" lengthAdjust="spacingAndGlyphs">5</text>
<line x1="457.30" y1="312.00" x2="460.50" y2="312.00" stroke="#2b2b2b" stroke-width="1.3"/>
<text x="454.00" y="314.90" font-size="8.2" fill="#222" stroke="#222" stroke-width="0.12" text-anchor="end" textLength="4.00" lengthAdjust="spacingAndGlyphs">0</text>
<line x1="457.20" y1="312.10" x2="512.70" y2="312.10" stroke="#2b2b2b" stroke-width="1.3"/>
<line x1="473.50" y1="312.10" x2="473.50" y2="314.90" stroke="#2b2b2b" stroke-width="1.3"/>
<line x1="499.00" y1="312.10" x2="499.00" y2="314.90" stroke="#2b2b2b" stroke-width="1.3"/>
<line x1="469.90" y1="204.30" x2="502.70" y2="204.30" stroke="#484848" stroke-width="1.5"/>
<text x="481.00" y="202.90" font-size="7.8" fill="#222" stroke="#222" stroke-width="0.3" textLength="10.90" lengthAdjust="spacingAndGlyphs">n.s.</text>
<line x1="464.90" y1="262.90" x2="482.00" y2="262.90" stroke="#333" stroke-width="1.5"/>
<circle cx="473.40" cy="214.60" r="2.3" fill="#a2233f"/>
<circle cx="473.40" cy="222.30" r="2.3" fill="#a2233f"/>
<circle cx="473.40" cy="244.70" r="2.3" fill="#a2233f"/>
<circle cx="473.30" cy="265.80" r="2.3" fill="#a2233f"/>
<circle cx="468.00" cy="283.50" r="2.3" fill="#a2233f"/>
<circle cx="478.90" cy="281.50" r="2.3" fill="#a2233f"/>
<circle cx="473.30" cy="286.80" r="2.3" fill="#a2233f"/>
<circle cx="473.40" cy="303.70" r="2.3" fill="#a2233f"/>
<line x1="490.30" y1="275.30" x2="507.80" y2="275.30" stroke="#333" stroke-width="1.5"/>
<circle cx="499.10" cy="233.50" r="2.1" fill="#3e5a85"/>
<circle cx="499.10" cy="245.50" r="2.1" fill="#3e5a85"/>
<circle cx="495.90" cy="259.50" r="2.1" fill="#3e5a85"/>
<circle cx="502.40" cy="265.10" r="2.1" fill="#3e5a85"/>
<circle cx="499.10" cy="279.00" r="2.1" fill="#3e5a85"/>
<circle cx="499.10" cy="301.60" r="2.1" fill="#3e5a85"/>
<circle cx="502.40" cy="307.20" r="2.1" fill="#3e5a85"/>
<circle cx="495.90" cy="309.70" r="2.1" fill="#3e5a85"/>
<text x="467.20" y="325.00" font-size="8.4" fill="#222" stroke="#222" stroke-width="0.2" textLength="12.20" lengthAdjust="spacingAndGlyphs">Ctrl</text>
<text x="487.80" y="325.00" font-size="8.4" fill="#222" stroke="#222" stroke-width="0.2" textLength="21.20" lengthAdjust="spacingAndGlyphs">shPlat</text>
<rect x="0.00" y="0.00" width="520.00" height="1.00" fill="#484848"/>
<rect x="0.00" y="1.00" width="520.00" height="0.50" fill="#9a9a9a"/>
<rect x="0.00" y="333.00" width="520.00" height="1.00" fill="#6a6a6a"/>
<rect x="0.00" y="334.00" width="520.00" height="1.00" fill="#444"/>
<rect x="0.00" y="0.00" width="1.20" height="335.00" fill="#111"/>
<rect x="518.90" y="0.00" width="1.10" height="335.00" fill="#111"/>
</svg>
</body></html>
